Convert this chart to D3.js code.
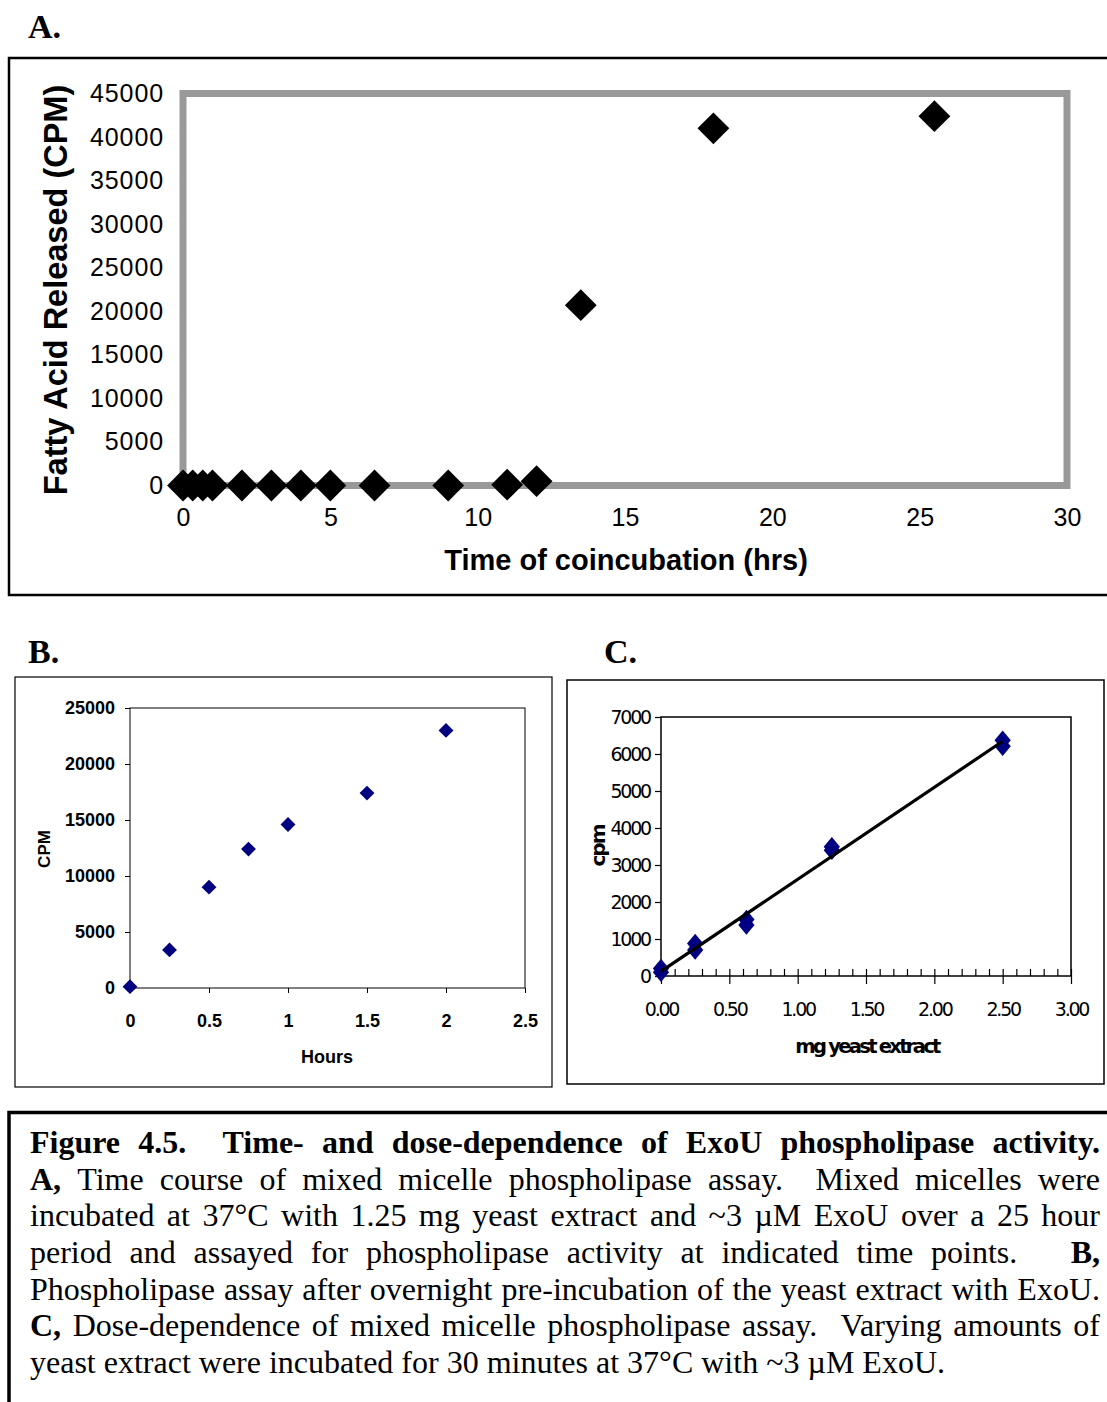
<!DOCTYPE html>
<html>
<head>
<meta charset="utf-8">
<script src="https://cdn.jsdelivr.net/npm/d3@7"></script>
<style>
  body { margin: 0; background: #fff; }
  svg { display: block; }
</style>
</head>
<body>
<div id="fig"></div>
<script>
// panel A - time course
const aHours = [0, 0.33, 0.67, 1, 2, 3, 4, 5, 6.5, 9, 11, 12, 13.5, 18, 25.5];
const aCpm   = [0, 0, 0, 0, 0, 0, 0, 0, 0, 0, 100, 500, 20700, 41000, 42400];
const aXTicks = [0, 5, 10, 15, 20, 25, 30];
const aYTicks = [0, 5000, 10000, 15000, 20000, 25000, 30000, 35000, 40000, 45000];

// panel B - after overnight pre-incubation
const bHours = [0, 0.25, 0.5, 0.75, 1, 1.5, 2];
const bCpm   = [120, 3400, 9000, 12400, 14600, 17400, 23000];
const bXTicks = [0, 0.5, 1, 1.5, 2, 2.5];
const bYTicks = [0, 5000, 10000, 15000, 20000, 25000];

// panel C - dose dependence (duplicates)
const cMg  = [0, 0, 0.25, 0.25, 0.625, 0.625, 1.25, 1.25, 2.5, 2.5];
const cCpm = [200, 100, 880, 700, 1530, 1380, 3490, 3400, 6370, 6210];
const cXTicks = [0, 0.5, 1, 1.5, 2, 2.5, 3];
const cYTicks = [0, 1000, 2000, 3000, 4000, 5000, 6000, 7000];

const captionLines = [
  [["Figure 4.5.  Time- and dose-dependence of ExoU phospholipase activity.", true]],
  [["A,", true], ["Time course of mixed micelle phospholipase assay.  Mixed micelles were", false]],
  [["incubated at 37°C with 1.25 mg yeast extract and ~3 µM ExoU over a 25 hour", false]],
  [["period and assayed for phospholipase activity at indicated time points.  ", false], ["B,", true]],
  [["Phospholipase assay after overnight pre-incubation of the yeast extract with ExoU.", false]],
  [["C,", true], ["Dose-dependence of mixed micelle phospholipase assay.  Varying amounts of", false]],
  [["yeast extract were incubated for 30 minutes at 37°C with ~3 µM ExoU.", false]]
];

const W = 1107, H = 1402;
const svg = d3.select("#fig").append("svg").attr("width", W).attr("height", H);

const sans = "Arial, 'Liberation Sans', sans-serif";
const serif = "'Times New Roman', 'Liberation Serif', serif";
const tahoma = "Tahoma, 'DejaVu Sans', sans-serif";

function diamond(sel, side, sy) {
  sel.attr("d", d3.symbol(d3.symbolSquare, side * side)())
     .attr("transform", (d) => "translate(" + d[0] + "," + d[1] + ") scale(1," + (sy || 1) + ") rotate(45)");
}

// panel labels
[["A.", 28, 38], ["B.", 28, 663], ["C.", 604, 663]].forEach((p) => {
  svg.append("text").attr("x", p[1]).attr("y", p[2])
    .attr("font-family", serif).attr("font-weight", "bold").attr("font-size", 34)
    .text(p[0]);
});

// ---------- panel A ----------
svg.append("path").attr("d", "M1107,58 H9 V595 H1107")
  .attr("fill", "none").attr("stroke", "#000").attr("stroke-width", 2.5);

const ax = d3.scaleLinear().domain([0, 30]).range([183, 1067]);
const ay = d3.scaleLinear().domain([0, 45000]).range([485.5, 93.5]);

const gA = svg.append("g");
gA.append("g").attr("transform", "translate(0," + ay(0) + ")")
  .call(d3.axisBottom(ax).tickValues(aXTicks).tickSize(0).tickPadding(23))
  .call((g) => g.select(".domain").remove())
  .selectAll("text").attr("font-family", sans).attr("font-size", 25).attr("fill", "#000");
gA.append("g").attr("transform", "translate(" + ax(0) + ",0)")
  .call(d3.axisLeft(ay).tickValues(aYTicks).tickFormat(d3.format("")).tickSize(0).tickPadding(19))
  .call((g) => g.select(".domain").remove())
  .selectAll("text").attr("font-family", sans).attr("font-size", 25).attr("letter-spacing", 0.9).attr("fill", "#000");

gA.append("rect")
  .attr("x", ax(0)).attr("y", ay(45000))
  .attr("width", ax(30) - ax(0)).attr("height", ay(0) - ay(45000))
  .attr("fill", "none").attr("stroke", "#999").attr("stroke-width", 7);

gA.selectAll("path.pt").data(aHours.map((h, i) => [ax(h), ay(aCpm[i])])).enter()
  .append("path").attr("class", "pt").attr("fill", "#000")
  .call(diamond, 22.5);

gA.append("text").attr("x", 626).attr("y", 570).attr("text-anchor", "middle")
  .attr("font-family", sans).attr("font-weight", "bold").attr("font-size", 29)
  .text("Time of coincubation (hrs)");
gA.append("text").attr("transform", "translate(67,290) rotate(-90)").attr("text-anchor", "middle")
  .attr("font-family", sans).attr("font-weight", "bold").attr("font-size", 32.5)
  .text("Fatty Acid Released (CPM)");

// ---------- panel B ----------
svg.append("rect").attr("x", 15).attr("y", 677).attr("width", 537).attr("height", 410)
  .attr("fill", "none").attr("stroke", "#000").attr("stroke-width", 1.2);

const bx = d3.scaleLinear().domain([0, 2.5]).range([130, 525]);
const by = d3.scaleLinear().domain([0, 25000]).range([988, 708]);

const gB = svg.append("g");
gB.append("rect").attr("x", bx(0)).attr("y", by(25000))
  .attr("width", bx(2.5) - bx(0)).attr("height", by(0) - by(25000))
  .attr("fill", "none").attr("stroke", "#000").attr("stroke-width", 1);
gB.append("g").attr("transform", "translate(0," + by(0) + ")")
  .call(d3.axisBottom(bx).tickValues(bXTicks).tickFormat(d3.format("")).tickSizeInner(5).tickSizeOuter(0).tickPadding(21))
  .call((g) => g.select(".domain").remove())
  .selectAll("text").attr("font-family", sans).attr("font-weight", "bold").attr("font-size", 18).attr("fill", "#000");
gB.append("g").attr("transform", "translate(" + bx(0) + ",0)")
  .call(d3.axisLeft(by).tickValues(bYTicks).tickFormat(d3.format("")).tickSizeInner(5).tickSizeOuter(0).tickPadding(10))
  .call((g) => g.select(".domain").remove())
  .selectAll("text").attr("font-family", sans).attr("font-weight", "bold").attr("font-size", 18).attr("fill", "#000");

gB.selectAll("path.pt").data(bHours.map((h, i) => [bx(h), by(bCpm[i])])).enter()
  .append("path").attr("class", "pt").attr("fill", "#000080")
  .call(diamond, 10.5);

gB.append("text").attr("x", 327).attr("y", 1063).attr("text-anchor", "middle")
  .attr("font-family", sans).attr("font-weight", "bold").attr("font-size", 18).text("Hours");
gB.append("text").attr("transform", "translate(50,849) rotate(-90)").attr("text-anchor", "middle")
  .attr("font-family", sans).attr("font-weight", "bold").attr("font-size", 17).text("CPM");

// ---------- panel C ----------
svg.append("rect").attr("x", 567).attr("y", 680).attr("width", 537).attr("height", 404)
  .attr("fill", "none").attr("stroke", "#000").attr("stroke-width", 1.5);

const cx = d3.scaleLinear().domain([0, 3]).range([661, 1071]);
const cy = d3.scaleLinear().domain([0, 7000]).range([976, 717]);

const gC = svg.append("g");
gC.append("rect").attr("x", cx(0)).attr("y", cy(7000))
  .attr("width", cx(3) - cx(0)).attr("height", cy(0) - cy(7000))
  .attr("fill", "none").attr("stroke", "#000").attr("stroke-width", 1.5);
// minor ticks pointing into the plot
gC.append("g").attr("transform", "translate(0," + cy(0) + ")")
  .call(d3.axisTop(cx).ticks(30).tickSize(7).tickFormat(""))
  .call((g) => g.select(".domain").remove())
  .selectAll("line").attr("stroke-width", 1.2);
gC.append("g").attr("transform", "translate(0," + cy(0) + ")")
  .call(d3.axisBottom(cx).tickValues(cXTicks).tickFormat(d3.format(".2f")).tickSizeInner(8).tickSizeOuter(0).tickPadding(19))
  .call((g) => g.select(".domain").remove())
  .call((g) => g.selectAll("line").attr("stroke-width", 1.2))
  .selectAll("text").attr("font-family", tahoma).attr("font-size", 19).attr("letter-spacing", -2.2).attr("fill", "#000");
gC.append("g").attr("transform", "translate(" + cx(0) + ",0)")
  .call(d3.axisLeft(cy).tickValues(cYTicks).tickFormat(d3.format("")).tickSizeInner(6).tickSizeOuter(0).tickPadding(5))
  .call((g) => g.select(".domain").remove())
  .call((g) => g.selectAll("line").attr("stroke-width", 1.2))
  .selectAll("text").attr("font-family", tahoma).attr("font-size", 19).attr("letter-spacing", -2.2).attr("fill", "#000");

gC.selectAll("path.pt").data(cMg.map((m, i) => [cx(m), cy(cCpm[i])])).enter()
  .append("path").attr("class", "pt").attr("fill", "#000080")
  .call(diamond, 11.5, 1.2);

// linear trendline (least squares over the replicate points)
const mx = d3.mean(cMg), my = d3.mean(cCpm);
const slope = d3.sum(cMg, (m, i) => (m - mx) * (cCpm[i] - my)) / d3.sum(cMg, (m) => (m - mx) * (m - mx));
const icpt = my - slope * mx;
const xEnd = d3.max(cMg);
gC.append("line")
  .attr("x1", cx(0)).attr("y1", cy(icpt))
  .attr("x2", cx(xEnd)).attr("y2", cy(icpt + slope * xEnd))
  .attr("stroke", "#000").attr("stroke-width", 3.2);

gC.append("text").attr("x", 867).attr("y", 1053).attr("text-anchor", "middle")
  .attr("font-family", tahoma).attr("font-weight", "bold").attr("font-size", 19.5).attr("letter-spacing", -2.7)
  .text("mg yeast extract");
gC.append("text").attr("transform", "translate(605,846) rotate(-90)").attr("text-anchor", "middle")
  .attr("font-family", tahoma).attr("font-weight", "bold").attr("font-size", 20).attr("letter-spacing", -2)
  .text("cpm");

// ---------- caption ----------
svg.append("path").attr("d", "M1107,1112.5 H9 V1402")
  .attr("fill", "none").attr("stroke", "#000").attr("stroke-width", 3.5);

// justified lines: every space stretches equally, so a double space gets twice the gap
const capLeft = 30, capRight = 1100, capTop = 1153, capStep = 36.67;
captionLines.forEach((line, li) => {
  const words = [];
  line.forEach((seg, si) => {
    const parts = seg[0].split(" ");
    parts.forEach((w, k) => {
      if (w) words.push({ text: w, bold: seg[1], spaces: 0 });
      else if (words.length) words[words.length - 1].spaces += 1;
      if (w && k < parts.length - 1) words[words.length - 1].spaces += 1;
    });
    if (si < line.length - 1 && words.length && parts[parts.length - 1]) words[words.length - 1].spaces += 1;
  });
  words[words.length - 1].spaces = 0;
  const g = svg.append("g");
  const nodes = words.map((w) => g.append("text")
    .attr("y", capTop + li * capStep)
    .attr("font-family", serif).attr("font-size", 32)
    .attr("font-weight", w.bold ? "bold" : "normal")
    .text(w.text));
  const widths = nodes.map((n) => n.node().getComputedTextLength());
  const total = d3.sum(widths);
  const nSpaces = d3.sum(words, (w) => w.spaces);
  const last = li === captionLines.length - 1;
  const gap = last ? 8 : (capRight - capLeft - total) / nSpaces;
  let x = capLeft;
  nodes.forEach((n, i) => { n.attr("x", x); x += widths[i] + gap * words[i].spaces; });
});
</script>
</body>
</html>
